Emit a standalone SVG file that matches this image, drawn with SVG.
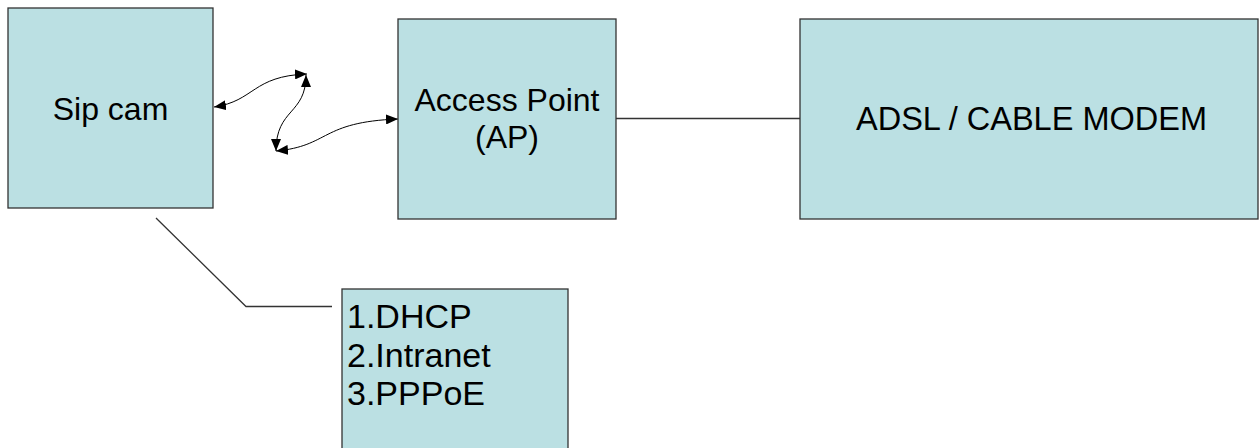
<svg xmlns="http://www.w3.org/2000/svg" width="1260" height="448" viewBox="0 0 1260 448">
<style>
.box{fill:#BBE0E3;stroke:#333333;stroke-width:1.3}
.t{font-family:"Liberation Sans",Arial,sans-serif;font-size:32px;fill:#000}
.l{font-size:34px}
.c{fill:none;stroke:#000;stroke-width:1}
.ln{fill:none;stroke:#333333;stroke-width:1.3}
</style>
<defs>
<marker id="ah" viewBox="0 0 12 10" refX="12" refY="5" markerWidth="12" markerHeight="10" markerUnits="userSpaceOnUse" orient="auto-start-reverse">
<path d="M0,0 L12,5 L0,10 z" fill="#000"/>
</marker>
</defs>
<rect width="1260" height="448" fill="#fff"/>
<g id="connectors">
<path class="c" d="M214,107 C255,101 252,76 307,74" marker-start="url(#ah)" marker-end="url(#ah)"/>
<path class="c" d="M306,75 C306,115 276,108 276,151" marker-start="url(#ah)" marker-end="url(#ah)"/>
<path class="c" d="M276,151 C330,146 320,122 398,119" marker-start="url(#ah)" marker-end="url(#ah)"/>
<path class="ln" d="M616,118.5 L800,118.5"/>
<path class="ln" d="M156,218 L246,306.5 L332,306.5"/>
</g>
<g id="sipcam">
<rect class="box" x="8" y="8" width="205" height="200"/>
<text class="t" x="110.5" y="120" text-anchor="middle">Sip cam</text>
</g>
<g id="ap">
<rect class="box" x="398" y="19" width="218" height="200"/>
<text class="t" x="507" y="111" text-anchor="middle">Access Point</text>
<text class="t" x="507" y="148" text-anchor="middle">(AP)</text>
</g>
<g id="modem">
<rect class="box" x="800" y="19" width="458" height="200"/>
<text class="t" x="1031.5" y="130" text-anchor="middle" style="font-size:32.5px">ADSL / CABLE MODEM</text>
</g>
<g id="modes">
<rect class="box" x="342" y="289" width="226" height="170"/>
<text class="t l" x="347" y="328">1.DHCP</text>
<text class="t l" x="347" y="366.5">2.Intranet</text>
<text class="t l" x="347" y="405">3.PPPoE</text>
</g>
</svg>
